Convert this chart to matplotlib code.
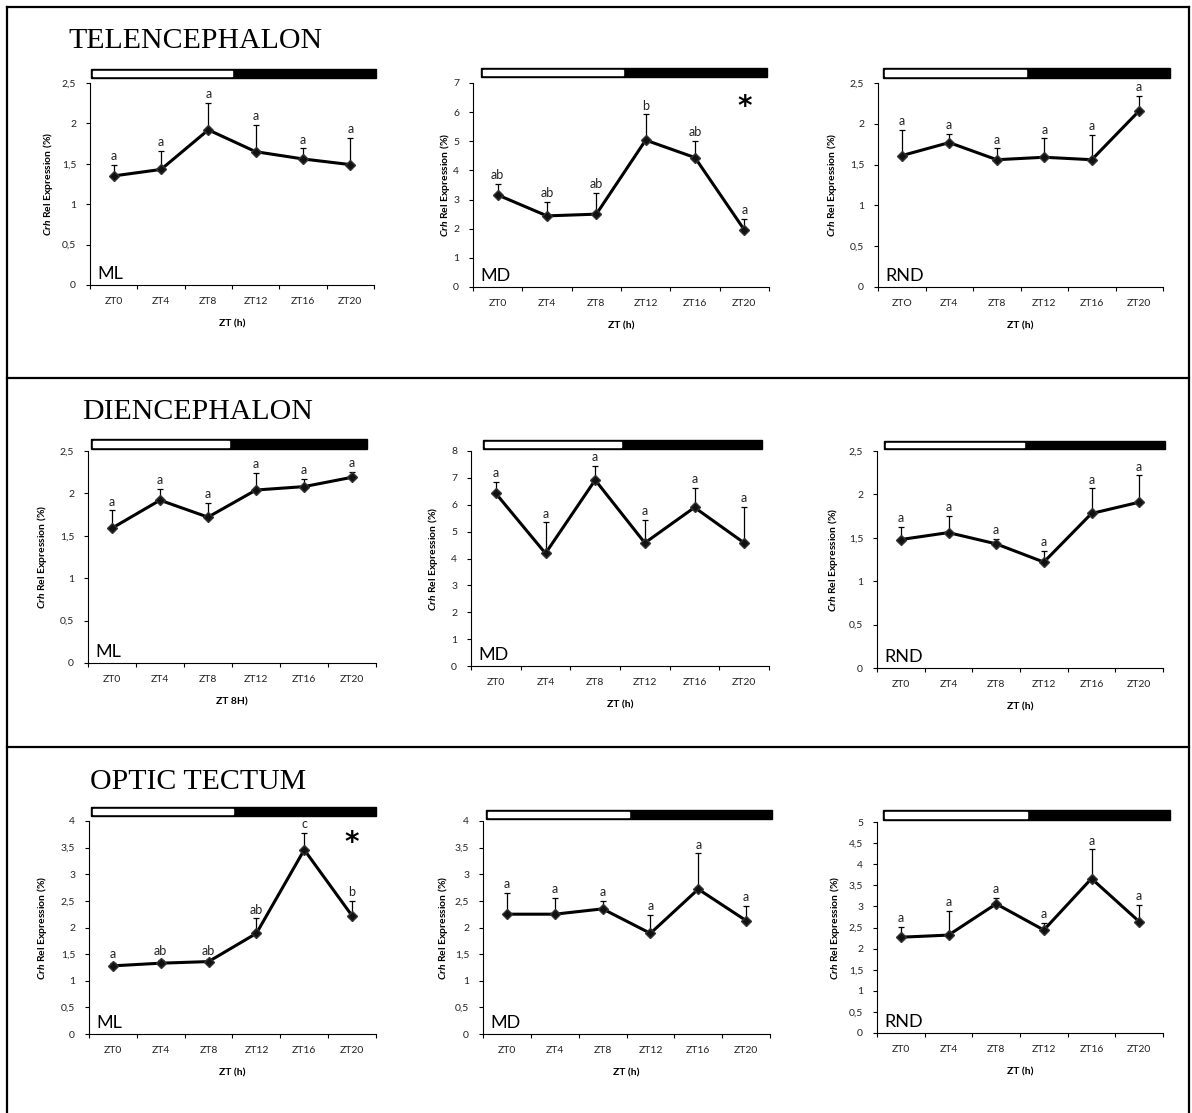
import numpy as np
import matplotlib.pyplot as plt
from matplotlib.patches import Rectangle
from matplotlib.lines import Line2D
from matplotlib.ticker import FixedLocator, FuncFormatter, NullFormatter

plt.rcParams['font.family'] = ['Lato', 'DejaVu Sans']
plt.rcParams['mathtext.fontset'] = 'custom'
plt.rcParams['mathtext.it'] = 'Lato:italic:bold'
plt.rcParams['mathtext.rm'] = 'Lato:bold'

# ---- data ----
zt_labels = ['ZT0', 'ZT4', 'ZT8', 'ZT12', 'ZT16', 'ZT20']
zt_labels_tel_rnd = ['ZTO', 'ZT4', 'ZT8', 'ZT12', 'ZT16', 'ZT20']

tel_ml_mean = [1.35, 1.43, 1.92, 1.65, 1.56, 1.49]
tel_ml_sem = [0.14, 0.23, 0.33, 0.33, 0.13, 0.33]
tel_ml_sig = ['a', 'a', 'a', 'a', 'a', 'a']

tel_md_mean = [3.16, 2.44, 2.50, 5.04, 4.44, 1.96]
tel_md_sem = [0.37, 0.49, 0.74, 0.88, 0.58, 0.38]
tel_md_sig = ['ab', 'ab', 'ab', 'b', 'ab', 'a']

tel_rnd_mean = [1.61, 1.77, 1.56, 1.59, 1.56, 2.16]
tel_rnd_sem = [0.32, 0.11, 0.14, 0.23, 0.30, 0.18]
tel_rnd_sig = ['a', 'a', 'a', 'a', 'a', 'a']

di_ml_mean = [1.59, 1.92, 1.72, 2.04, 2.08, 2.19]
di_ml_sem = [0.21, 0.13, 0.17, 0.20, 0.09, 0.06]
di_ml_sig = ['a', 'a', 'a', 'a', 'a', 'a']

di_md_mean = [6.42, 4.19, 6.92, 4.58, 5.90, 4.58]
di_md_sem = [0.44, 1.15, 0.52, 0.85, 0.73, 1.35]
di_md_sig = ['a', 'a', 'a', 'a', 'a', 'a']

di_rnd_mean = [1.48, 1.56, 1.43, 1.22, 1.78, 1.91]
di_rnd_sem = [0.15, 0.19, 0.06, 0.13, 0.29, 0.31]
di_rnd_sig = ['a', 'a', 'a', 'a', 'a', 'a']

ot_ml_mean = [1.28, 1.33, 1.36, 1.89, 3.46, 2.22]
ot_ml_sem = [0.06, 0.06, 0.04, 0.28, 0.31, 0.28]
ot_ml_sig = ['a', 'ab', 'ab', 'ab', 'c', 'b']

ot_md_mean = [2.25, 2.25, 2.35, 1.89, 2.72, 2.13]
ot_md_sem = [0.40, 0.30, 0.15, 0.34, 0.67, 0.28]
ot_md_sig = ['a', 'a', 'a', 'a', 'a', 'a']

ot_rnd_mean = [2.27, 2.32, 3.06, 2.44, 3.66, 2.64]
ot_rnd_sem = [0.25, 0.58, 0.15, 0.17, 0.69, 0.39]
ot_rnd_sig = ['a', 'a', 'a', 'a', 'a', 'a']

groups = ['ML', 'MD', 'RND']
regions = ['TELENCEPHALON', 'DIENCEPHALON', 'OPTIC TECTUM']

W, H = 1192, 1113
fig = plt.figure(figsize=(W / 100, H / 100), dpi=100)


def fx(px):
    return px / W


def fy(py):
    return 1 - py / H


# panels: (mean, sem, sig, xlabels, xlabel, ymax, ystep, star_y,
#          axes px (x0, ytop, x1, ybot), bar px (x0, y0, x1, y1, split), ylabel offset)
panels = [
    (tel_ml_mean, tel_ml_sem, tel_ml_sig, zt_labels, 'ZT (h)', 2.5, 0.5, None,
     (90, 83, 374, 285), (91, 69, 376, 78, 232), 42),
    (tel_md_mean, tel_md_sem, tel_md_sig, zt_labels, 'ZT (h)', 7, 1, 6.45,
     (473, 83, 769, 287), (481, 68, 767, 77, 623), 28),
    (tel_rnd_mean, tel_rnd_sem, tel_rnd_sig, zt_labels_tel_rnd, 'ZT (h)', 2.5, 0.5, None,
     (878, 83, 1163, 287), (883, 68, 1170, 78, 1026), 46),
    (di_ml_mean, di_ml_sem, di_ml_sig, zt_labels, 'ZT 8H)', 2.5, 0.5, None,
     (88, 451, 376, 663), (91, 439, 367, 449, 229), 46),
    (di_md_mean, di_md_sem, di_md_sig, zt_labels, 'ZT (h)', 8, 1, None,
     (471, 451, 769, 666), (483, 440, 762, 449, 621), 38),
    (di_rnd_mean, di_rnd_sem, di_rnd_sig, zt_labels, 'ZT (h)', 2.5, 0.5, None,
     (877, 451, 1163, 668), (884, 441, 1165, 449, 1024), 44),
    (ot_ml_mean, ot_ml_sem, ot_ml_sig, zt_labels, 'ZT (h)', 4, 0.5, 3.74,
     (89, 821, 376, 1034), (91, 807, 376, 816, 233), 47),
    (ot_md_mean, ot_md_sem, ot_md_sig, zt_labels, 'ZT (h)', 4, 0.5, None,
     (483, 821, 770, 1034), (486, 810, 772, 819, 629), 40),
    (ot_rnd_mean, ot_rnd_sem, ot_rnd_sig, zt_labels, 'ZT (h)', 5, 0.5, None,
     (877, 822, 1163, 1033), (883, 810, 1170, 820, 1027), 42),
]

comma = FuncFormatter(lambda v, p: ('%g' % v).replace('.', ','))

for i, (mean, sem, sig, xlabs, xlab, ymax, ystep, star_y, rect, bar, ylo) in enumerate(panels):
    x0, yt, x1, yb = rect
    ax = fig.add_axes([fx(x0), fy(yb), fx(x1 - x0), (yb - yt) / H])
    x = np.arange(len(mean))
    mean = np.array(mean)
    sem = np.array(sem)

    ax.errorbar(x, mean, yerr=[np.zeros_like(sem), sem], fmt='none', ecolor='black',
                elinewidth=0.9, capsize=2.3, capthick=0.9, zorder=2)
    ax.plot(x, mean, color='black', lw=2.2, marker='D', ms=5.5,
            mfc='#111111', mec='#333333', zorder=3)

    for xi, top, s in zip(x, mean + sem, sig):
        ax.annotate(s, (xi, top), xytext=(0, 2), textcoords='offset points',
                    ha='center', va='bottom', fontsize=9, color='#222222')

    if star_y is not None:
        ax.annotate('*', (5, star_y), xytext=(0, -16), textcoords='offset pixels',
                    ha='center', va='baseline', fontsize=20, fontweight='bold',
                    family='DejaVu Sans')

    ax.annotate(groups[i % 3], (0, 0), xycoords='axes fraction', xytext=(7, 6),
                textcoords='offset pixels', ha='left', va='baseline', fontsize=13)

    ax.set_xlim(-0.5, len(mean) - 0.5)
    ax.set_ylim(0, ymax)
    ax.xaxis.set_major_locator(FixedLocator(np.arange(-0.5, len(mean), 1.0)))
    ax.xaxis.set_major_formatter(NullFormatter())
    ax.xaxis.set_minor_locator(FixedLocator(x))
    ax.set_xticklabels(xlabs, minor=True)
    ax.set_yticks(np.arange(0, ymax + ystep / 2, ystep))
    ax.yaxis.set_major_formatter(comma)

    ax.tick_params(axis='x', which='major', direction='out', length=3, width=0.8)
    ax.tick_params(axis='x', which='minor', length=0, pad=8.5, labelsize=7.5,
                   labelcolor='#222222')
    ax.tick_params(axis='y', direction='out', length=3, width=0.8, pad=7,
                   labelsize=7.5, labelcolor='#222222')
    for side in ['top', 'right']:
        ax.spines[side].set_visible(False)
    for side in ['left', 'bottom']:
        ax.spines[side].set_linewidth(0.8)

    w_px = x1 - x0
    h_px = yb - yt
    ax.set_ylabel('$Crh$ Rel Expression (%)', fontsize=7.5, fontweight='bold')
    ax.yaxis.label.set_verticalalignment('center')
    ax.yaxis.set_label_coords(-ylo / w_px, 0.5)
    ax.set_xlabel(xlab, fontsize=7.5, fontweight='bold')
    ax.xaxis.label.set_verticalalignment('center')
    ax.xaxis.set_label_coords(0.5, -39 / h_px)

    # light/dark bar above the plot
    bx0, by0, bx1, by1, split = bar
    fig.patches.append(Rectangle((fx(bx0), fy(by1)), fx(bx1 - bx0), (by1 - by0) / H,
                                 transform=fig.transFigure, color='black'))
    fig.patches.append(Rectangle((fx(bx0 + 2), fy(by1 - 2)), fx(split - bx0 - 2),
                                 (by1 - by0 - 4) / H, transform=fig.transFigure,
                                 color='white'))

# row titles
for name, (tx, ty) in zip(regions, [(68, 48), (82, 419), (90, 789)]):
    fig.text(fx(tx), fy(ty), name, family='Liberation Serif', fontsize=21.5,
             ha='left', va='baseline')

# frame lines
frame = [((7, 7), (1189, 7)), ((7, 7), (7, 1113)), ((1189, 7), (1189, 1113)),
         ((7, 378), (1189, 378)), ((7, 747), (1189, 747))]
for (ax0, ay0), (ax1, ay1) in frame:
    fig.lines.append(Line2D([fx(ax0), fx(ax1)], [fy(ay0), fy(ay1)],
                            transform=fig.transFigure, color='black', lw=1.6))

plt.savefig('out.png', dpi=100)
